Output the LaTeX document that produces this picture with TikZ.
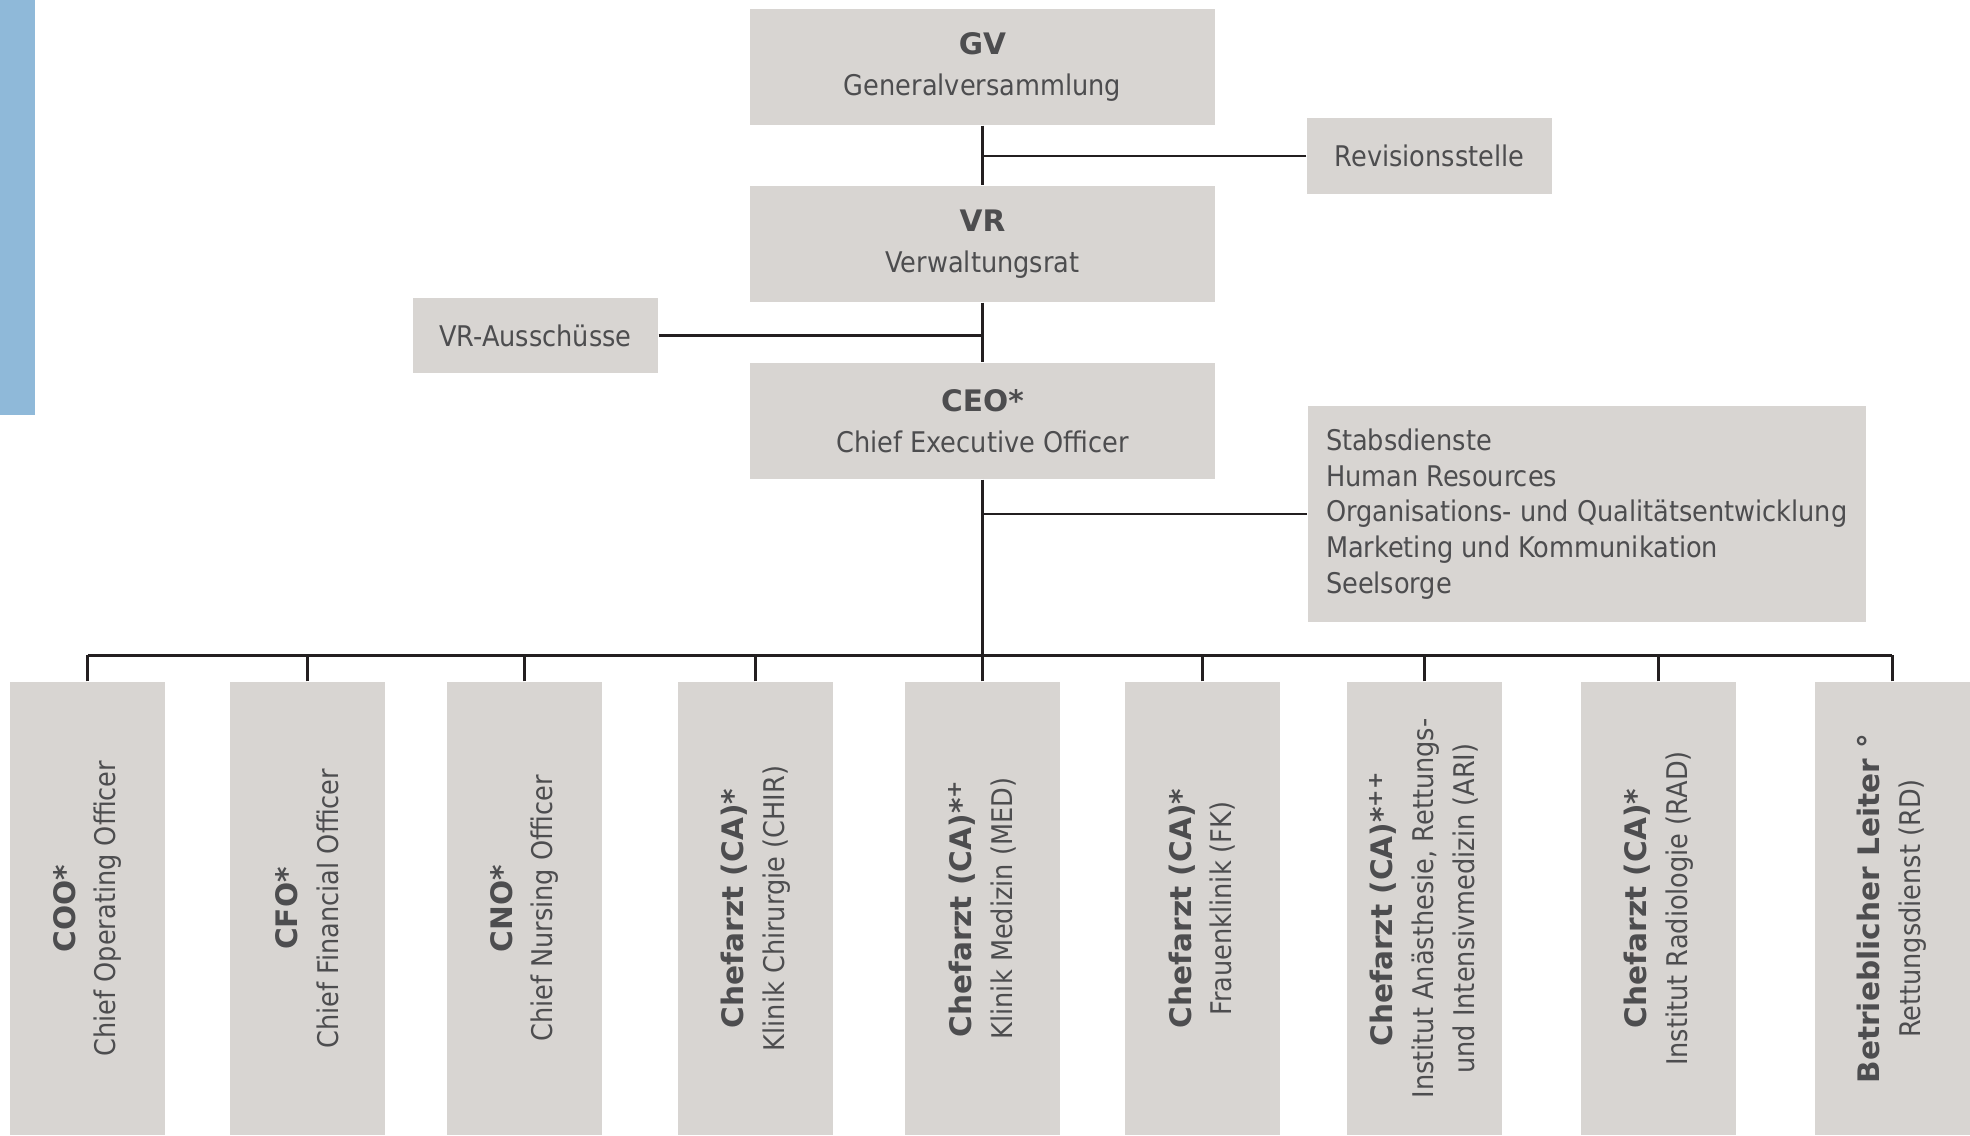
\documentclass[tikz,border=0pt]{standalone}
\usepackage{fontspec}
\setmainfont{DejaVu Sans Condensed}[BoldFont=DejaVu Sans Bold,BoldFeatures={Scale=1.04}]

\definecolor{boxgray}{RGB}{216,213,210}
\definecolor{textgray}{RGB}{77,77,79}
\definecolor{linegray}{RGB}{35,31,32}
\definecolor{barblue}{RGB}{143,185,217}

\begin{document}
\begin{tikzpicture}

\tikzset{box/.style = {fill=boxgray,text=textgray,inner sep=0pt,align=center,font=\fontsize{8.1}{11.6}\selectfont}}
\tikzset{dept/.style = {box,rotate=90,minimum width=4.53cm,minimum height=1.55cm}}
\tikzset{link/.style = {draw=linegray,line width=0.85pt}}

\useasboundingbox (0,0) rectangle (19.7,-11.35);
\fill[barblue] (0,0) rectangle (0.35,-4.15);

\node[box,minimum width=4.65cm,minimum height=1.16cm] (gv) at (9.825,-0.67) {\textbf{GV}\\Generalversammlung};
\node[box,minimum width=2.45cm,minimum height=0.755cm] (rev) at (14.295,-1.56) {Revisionsstelle};
\node[box,minimum width=4.65cm,minimum height=1.16cm] (vr) at (9.825,-2.44) {\textbf{VR}\\Verwaltungsrat};
\node[box,minimum width=2.45cm,minimum height=0.75cm] (vra) at (5.355,-3.355) {VR-Ausschüsse};
\node[box,minimum width=4.65cm,minimum height=1.16cm] (ceo) at (9.825,-4.21) {\textbf{CEO*}\\Chief Executive Officer};
\node[box,align=left,font=\fontsize{8.1}{10.2}\selectfont,inner xsep=0.16cm,minimum width=5.58cm,minimum height=2.16cm,anchor=west] (stab) at (13.07,-5.14)
  {Stabsdienste\\Human Resources\\Organisations- und Qualitätsentwicklung\\Marketing und Kommunikation\\Seelsorge};

\node[dept] (coo) at (0.875,-9.085) {\textbf{COO*}\\Chief Operating Officer};
\node[dept] (cfo) at (3.07,-9.085) {\textbf{CFO*}\\Chief Financial Officer};
\node[dept] (cno) at (5.245,-9.085) {\textbf{CNO*}\\Chief Nursing Officer};
\node[dept] (chir) at (7.555,-9.085) {\textbf{Chefarzt (CA)*}\\Klinik Chirurgie (CHIR)};
\node[dept] (med) at (9.825,-9.085) {\textbf{Chefarzt (CA)*\textsuperscript{+}}\\Klinik Medizin (MED)};
\node[dept] (fk) at (12.02,-9.085) {\textbf{Chefarzt (CA)*}\\Frauenklinik (FK)};
\node[dept] (ari) at (14.24,-9.085) {\textbf{Chefarzt (CA)*\textsuperscript{++}}\\Institut Anästhesie, Rettungs-\\und Intensivmedizin (ARI)};
\node[dept] (rad) at (16.585,-9.085) {\textbf{Chefarzt (CA)*}\\Institut Radiologie (RAD)};
\node[dept] (rd) at (18.92,-9.085) {\textbf{Betrieblicher Leiter °}\\Rettungsdienst (RD)};

\coordinate (bus) at (9.825,-6.55);

\draw[link] (gv) -- (vr);
\draw[link] (vr) -- (ceo);
\draw[link] (ceo) -- (bus);
\draw[link] (rev) -- (rev -| gv);
\draw[link] (vra) -- (vra -| vr);
\draw[link] (stab) -- (stab -| ceo);

\draw[link] (coo.east |- bus) -- (rd.east |- bus);
\foreach \d in {coo,cfo,cno,chir,med,fk,ari,rad,rd}
  \draw[link] (\d.east) -- (\d.east |- bus);

\end{tikzpicture}
\end{document}
